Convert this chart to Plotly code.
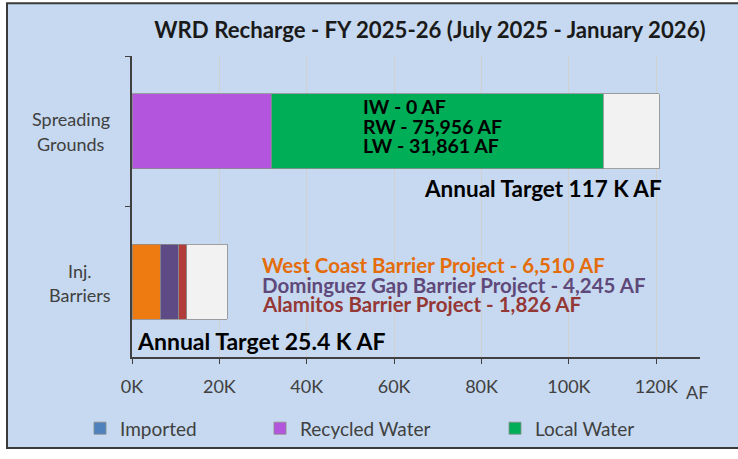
import plotly.graph_objects as go

# ---------------- data ----------------
categories = ["Spreading Grounds", "Inj. Barriers"]
imported = [0, None]
recycled_water = [31861, None]
local_water = [75956, None]
west_coast = [None, 6510]
dominguez_gap = [None, 4245]
alamitos = [None, 1826]
target_remaining = [12800, 9200]

x_tick_vals = [0, 20000, 40000, 60000, 80000, 100000, 120000]
x_tick_text = ["0K", "20K", "40K", "60K", "80K", "100K", "120K"]

sg_labels = ["IW - 0 AF", "RW - 75,956 AF", "LW - 31,861 AF"]
ib_labels = ["West Coast Barrier Project - 6,510 AF",
             "Dominguez Gap Barrier Project - 4,245 AF",
             "Alamitos Barrier Project - 1,826 AF"]
ib_label_colors = ["#E46C0A", "#5F497A", "#953735"]
sg_target_text = "Annual Target 117 K AF"
ib_target_text = "Annual Target 25.4 K AF"
title_text = "WRD Recharge - FY 2025-26 (July 2025 - January 2026)"

# ---------------- layout constants ----------------
W, H = 738, 459
ML, MR, MT, MB = 132, 38, 56, 95
PW, PH = W - ML - MR, H - MT - MB
FONT = "Lato"
TXT = "#404040"
OUTLINE = dict(color="#8C8C8C", width=0.8)


def px_x(px):
    return (px - ML) / PW


def px_y(py):
    return (H - MB - py) / PH


fig = go.Figure()


def add_bar(vals, name, color, legend=None, show=False):
    fig.add_trace(go.Bar(
        y=categories, x=vals, name=name, orientation="h",
        marker=dict(color=color, line=OUTLINE),
        showlegend=show, legend=legend, hoverinfo="skip",
    ))


add_bar(imported, "Imported", "#4F81BD", "legend", True)
add_bar(recycled_water, "Recycled Water", "#B455DE", "legend2", True)
add_bar(local_water, "Local Water", "#00AE57", "legend3", True)
add_bar(west_coast, "West Coast", "#EE7A12")
add_bar(dominguez_gap, "Dominguez Gap", "#5E4A85")
add_bar(alamitos, "Alamitos", "#B23C3A")
add_bar(target_remaining, "Target", "#F2F2F2")

annotations = []
# text inside / near bars
sg_shifts = [25, 5, -14]
for t, s in zip(sg_labels, sg_shifts):
    annotations.append(dict(x=52600, y=categories[0], xref="x", yref="y", text=t,
                            showarrow=False, xanchor="left", yshift=s, borderpad=0,
                            font=dict(family=FONT, size=19.5, color="#000000", weight="bold")))
annotations.append(dict(x=121600, y=categories[0], xref="x", yref="y", text=sg_target_text,
                        showarrow=False, xanchor="right", yshift=-57, borderpad=0,
                        font=dict(family=FONT, size=22.5, color="#000000", weight="bold")))
ib_shifts = [17, -3, -22]
for t, c, s in zip(ib_labels, ib_label_colors, ib_shifts):
    annotations.append(dict(x=29600, y=categories[1], xref="x", yref="y", text=t,
                            showarrow=False, xanchor="left", yshift=s, borderpad=0,
                            font=dict(family=FONT, size=20.5, color=c, weight="bold")))
annotations.append(dict(x=900, y=categories[1], xref="x", yref="y", text=ib_target_text,
                        showarrow=False, xanchor="left", yshift=-59, borderpad=0,
                        font=dict(family=FONT, size=23, color="#000000", weight="bold")))

# category labels (two lines, block right-aligned to the axis, lines centered)
cat_lines = [["Spreading", "Grounds"], ["Inj.", "Barriers"]]
cat_centers = [71, 80]
cat_shifts = [[12.5, -12.5], [11, -13]]
for cat, lines, cx, shifts in zip(categories, cat_lines, cat_centers, cat_shifts):
    for ln, s in zip(lines, shifts):
        annotations.append(dict(x=px_x(cx), y=cat, xref="paper", yref="y", text=ln,
                                showarrow=False, xanchor="center", yshift=s, borderpad=0,
                                font=dict(family=FONT, size=18, color=TXT)))

# axis unit label
annotations.append(dict(x=px_x(697), y=px_y(400), xref="paper", yref="paper", text="AF",
                        showarrow=False, xanchor="center", yanchor="middle",
                        font=dict(family=FONT, size=18, color=TXT)))

shapes = [dict(type="rect", xref="paper", yref="paper", layer="below",
               x0=px_x(7), x1=px_x(745), y0=px_y(457), y1=px_y(2),
               fillcolor="#C6D9F0", line=dict(color="#3A3A3A", width=2))]

legend_common = dict(orientation="h", bgcolor="rgba(0,0,0,0)", yanchor="middle",
                     xanchor="left", font=dict(family=FONT, size=19, color=TXT),
                     itemwidth=30)

fig.update_layout(
    width=W, height=H,
    margin=dict(l=ML, r=MR, t=MT, b=MB, pad=0),
    paper_bgcolor="#FFFFFF", plot_bgcolor="#FFFFFF",
    barmode="stack", bargap=0.5,
    title=dict(text=title_text, x=px_x(430), xref="paper", xanchor="center",
               y=1 - 30 / H, yanchor="middle",
               font=dict(family=FONT, size=22.2, color="#1A1A1A", weight="bold")),
    xaxis=dict(range=[0, 130000], tickvals=x_tick_vals, ticktext=x_tick_text,
               showgrid=True, gridcolor="#D0D0D0", gridwidth=1,
               showline=True, linecolor="#404040", linewidth=1.5,
               ticks="outside", ticklen=5, tickcolor="#404040",
               ticklabelstandoff=8,
               tickfont=dict(family=FONT, size=18, color=TXT), zeroline=False,
               fixedrange=True),
    yaxis=dict(type="category", categoryorder="array", categoryarray=categories,
               autorange="reversed", showgrid=False, showticklabels=False,
               showline=True, linecolor="#404040", linewidth=1.5,
               ticks="outside", ticklen=5, tickcolor="#404040", tickson="boundaries",
               fixedrange=True),
    legend=dict(legend_common, x=px_x(80), y=px_y(437)),
    legend2=dict(legend_common, x=px_x(260), y=px_y(437)),
    legend3=dict(legend_common, x=px_x(495), y=px_y(437)),
    annotations=annotations,
    shapes=shapes,
)

fig.write_html("out.html", config={"displayModeBar": False},
               post_script="document.body.style.margin='0';")
